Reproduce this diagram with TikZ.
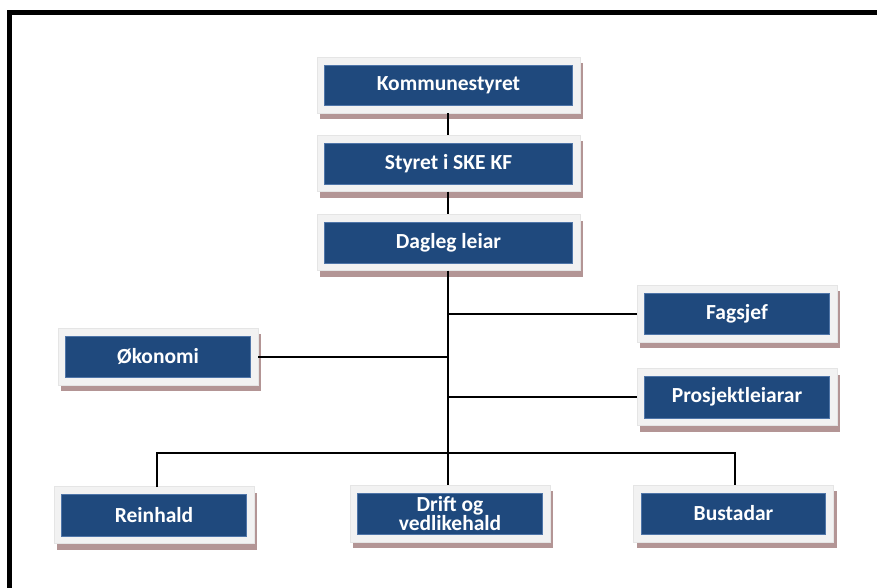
\documentclass[tikz,border=0pt]{standalone}
\usepackage{fontspec}
\setmainfont{Carlito}
\usepackage{xcolor}
\usepackage{tikz}
\usetikzlibrary{shadows}
\usetikzlibrary{positioning}
\definecolor{unitblue}{HTML}{1F497D}
\definecolor{unitedge}{HTML}{4F75A8}
\definecolor{framegray}{HTML}{F2F2F2}
\definecolor{shadowrose}{HTML}{B39595}

\begin{document}
\begin{tikzpicture}[
  x=1pt, y=-1pt,
  unit/.style={rectangle, fill=framegray, draw=white!90!black, line width=0.4pt,
    minimum width=200pt, minimum height=57pt, inner sep=0pt,
    drop shadow={shadow xshift=3pt, shadow yshift=-6pt, fill=shadowrose, opacity=1},
    text=white, font=\fontsize{21.5}{19}\selectfont\bfseries, align=center,
    path picture={
      \fill[unitblue, draw=unitedge, line width=0.6pt]
        ([shift={(7.5pt,-8pt)}]path picture bounding box.north west) rectangle
        ([shift={(-8pt,7.5pt)}]path picture bounding box.south east);
    }},
  wide/.style={unit, minimum width=263pt, minimum height=56pt},
  link/.style={draw=black, line width=2pt}
]
\useasboundingbox (0,0) rectangle (877,588);
\fill[white] (0,0) rectangle (877,588);

% outer frame
\begin{scope}
\clip (0,0) rectangle (877,588);
\draw[line width=5pt] (9.5,12.5) rectangle (900,620);
\end{scope}

\node[wide] (kommune) at (448.5,85)   {Kommunestyret};
\node[wide] (styret)  at (448.5,163.5) {Styret i SKE KF};
\node[wide] (dagleg)  at (448.5,242.5) {Dagleg leiar};

\node[unit] (fagsjef)  at (737,313.5) {Fagsjef};
\node[unit] (prosjekt) at (737,397)   {Prosjektleiarar};
\node[unit] (okonomi)  at (158,356.5) {Økonomi};

\node[unit] (reinhald) at (154,515)   {Reinhald};
\node[unit] (drift)    at (450,513.5) {Drift og\\vedlikehald};
\node[unit] (bustadar) at (733.5,513.5) {Bustadar};

\coordinate (hub) at (448,453);

\draw[link] (kommune.south -| hub) -- (styret.north -| hub);
\draw[link] (styret.south -| hub) -- (dagleg.north -| hub);
\draw[link] (dagleg.south -| hub) -- (hub);
\draw[link] (fagsjef.west -| hub) -- (fagsjef.west);
\draw[link] (prosjekt.west -| hub) -- (prosjekt.west);
\draw[link] (okonomi.east -| hub) -- (okonomi.east);

\draw[link] (157,487) |- (hub) -| (735,485);
\draw[link] (hub) -- (hub |- drift.north);

\end{tikzpicture}
\end{document}
